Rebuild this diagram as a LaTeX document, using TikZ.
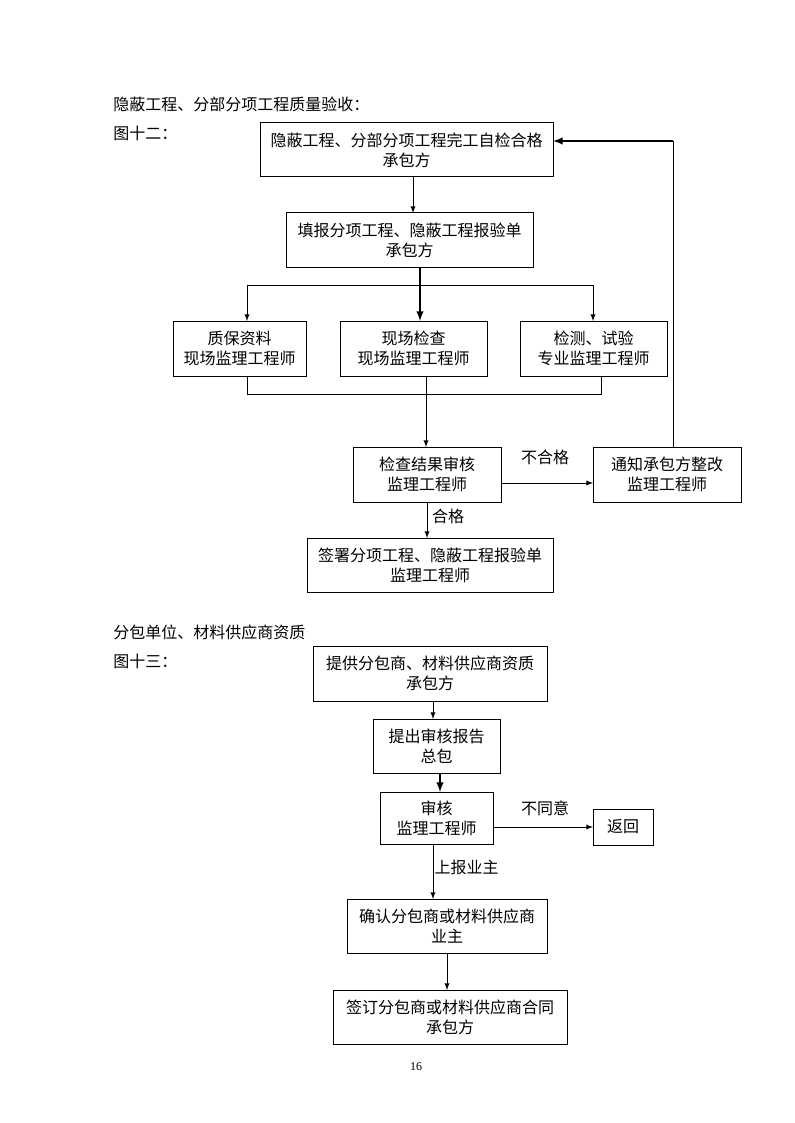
\documentclass[tikz,border=0pt]{standalone}
\usepackage{fontspec}
\setmainfont{Noto Sans CJK SC}
\newfontfamily\numfont{Liberation Serif}
\usepackage{tikz}
\usetikzlibrary{arrows}

\tikzset{box/.style={draw, line width=0.75pt, inner sep=0pt, outer sep=0pt, align=center},
  title/.style={anchor=west, inner sep=0pt},
  arr/.style={->, >=latex, line width=0.75pt},
  thickarr/.style={->, >=latex, line width=1.5pt}}

\begin{document}
\begin{tikzpicture}[x=0.75pt, y=-0.75pt, every node/.style={font=\fontsize{12}{15}\selectfont}]
\useasboundingbox (0,0) rectangle (794,1123); % page of 794 x 1123

% first chart: hidden works
\node[title] (t1) at (113,104) {隐蔽工程、分部分项工程质量验收：};
\node[title] (f1) at (113,133) {图十二：};
\node[box, minimum width=219.75pt, minimum height=40.5pt] (b1) at (406.5,150) {隐蔽工程、分部分项工程完工自检合格\\承包方};
\node[box, minimum width=185.25pt, minimum height=40.5pt] (b2) at (409.5,240) {填报分项工程、隐蔽工程报验单\\承包方};
\node[box, minimum width=99.75pt, minimum height=41.25pt] (b3a) at (239.5,348.5) {质保资料\\现场监理工程师};
\node[box, minimum width=110.25pt, minimum height=41.25pt] (b3b) at (413.5,348.5) {现场检查\\现场监理工程师};
\node[box, minimum width=110.25pt, minimum height=41.25pt] (b3c) at (593.5,348.5) {检测、试验\\专业监理工程师};
\node[box, minimum width=111pt, minimum height=41.25pt] (b4) at (427,474.5) {检查结果审核\\监理工程师};
\node[box, minimum width=111pt, minimum height=41.25pt] (b5) at (667,474.5) {通知承包方整改\\监理工程师};
\node[box, minimum width=184.5pt, minimum height=40.5pt] (b6) at (430,565) {签署分项工程、隐蔽工程报验单\\监理工程师};
\node (ng) at (545,457) {不合格};
\node (ok) at (448,516) {合格};

\coordinate (sp) at (420,285); \coordinate (la) at (247,285); \coordinate (ra) at (593,285);
\coordinate (lb) at (247,394); \coordinate (rb) at (601,394); \coordinate (mb) at (426,394);
\coordinate (fb) at (673,141); \coordinate (hy) at (545,483);
\draw[arr] (b1.south -| 413,0) -- (b2.north -| 413,0);
\draw[thickarr] (b2.south -| sp) -- (sp |- b3b.north);
\draw[arr] (sp) -- (la) -- (la |- b3a.north);
\draw[arr] (sp) -- (ra) -- (ra |- b3c.north);
\draw[line width=0.75pt] (lb |- b3a.south) -- (lb) -- (rb) -- (rb |- b3c.south);
\draw[arr] (mb |- b3b.south) -- (mb |- b4.north);
\draw[arr] (b4.east |- hy) -- (b5.west |- hy);
\draw[arr] (b4.south) -- (b4.south |- b6.north);
\draw[line width=0.75pt] (b5.north -| fb) -- (fb);
\draw[thickarr] (fb) -- (fb -| b1.east); % back to the start

% second chart: subcontractors
\node[title] (t2) at (113,632) {分包单位、材料供应商资质};
\node[title] (f2) at (113,661) {图十三：};
\node[box, minimum width=175.5pt, minimum height=41.25pt] (b7) at (430,673.5) {提供分包商、材料供应商资质\\承包方};
\node[box, minimum width=95.25pt, minimum height=40.5pt] (b8) at (436.5,746) {提出审核报告\\总包};
\node[box, minimum width=84.75pt, minimum height=39pt] (b9) at (436.5,818) {审核\\监理工程师};
\node[box, minimum width=45pt, minimum height=27pt] (b10) at (623,827) {返回};
\node[box, minimum width=150pt, minimum height=40.5pt] (b11) at (447,926) {确认分包商或材料供应商\\业主};
\node[box, minimum width=175.5pt, minimum height=40.5pt] (b12) at (450,1017) {签订分包商或材料供应商合同\\承包方};
\node (no) at (545,808) {不同意};
\node[anchor=west, inner xsep=1pt] (up) at (433,867) {上报业主};

\draw[arr] (b7.south -| 433,0) -- (b8.north -| 433,0);
\draw[thickarr] (b8.south -| 440,0) -- (b9.north -| 440,0);
\draw[arr] (b9.east |- b10.west) -- (b10.west);
\draw[arr] (b9.south -| 433,0) -- (b11.north -| 433,0);
\draw[arr] (b11.south) -- (b11.south |- b12.north);

\node (pg) at (416,1067) {\numfont\fontsize{9}{11}\selectfont 16};
\end{tikzpicture}
\end{document}
